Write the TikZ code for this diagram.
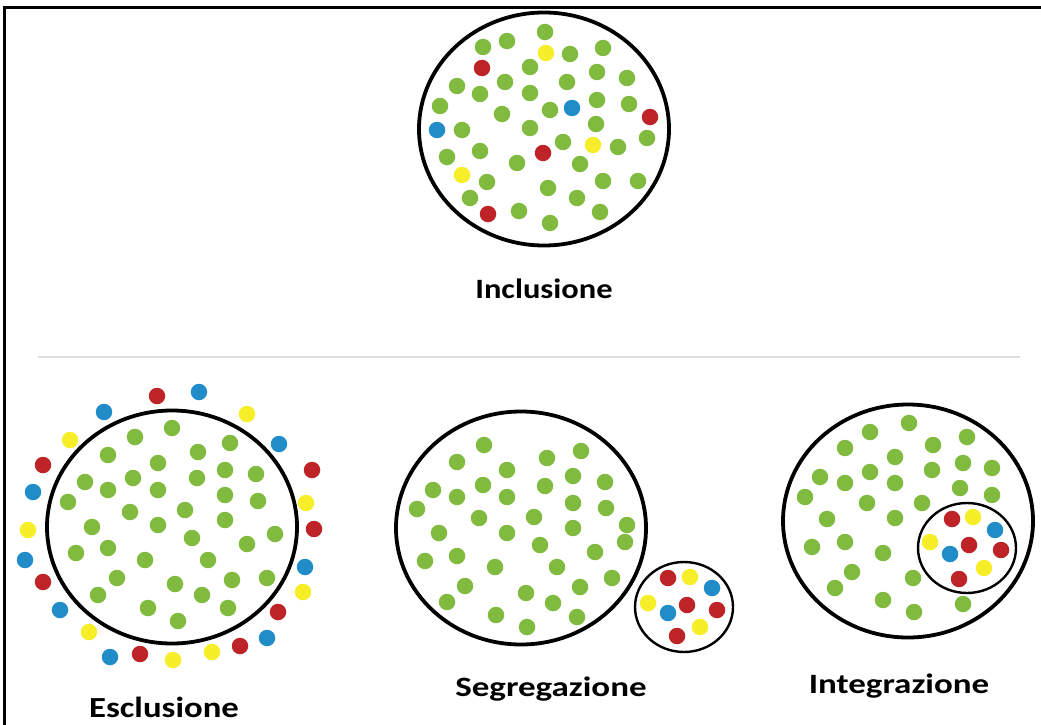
\documentclass[tikz,border=0pt]{standalone}
\usepackage{fontspec}
\setmainfont{Carlito}
\usetikzlibrary{shapes.geometric}
\definecolor{dgreen}{RGB}{128,186,62}
\definecolor{dred}{RGB}{190,35,40}
\definecolor{dblue}{RGB}{32,140,200}
\definecolor{dyellow}{RGB}{246,238,40}
\definecolor{sepgray}{RGB}{222,222,222}
\tikzset{
  dotbase/.style={circle,inner sep=0pt,minimum size=16.5pt},
  gd/.style={dotbase,fill=dgreen},
  rd/.style={dotbase,fill=dred},
  bd/.style={dotbase,fill=dblue},
  yd/.style={dotbase,fill=dyellow},
  bigring/.style={ellipse,draw=black,line width=3.8pt,inner sep=0pt,minimum width=250pt,minimum height=233pt},
  smallring/.style={ellipse,draw=black,line width=2.4pt,inner sep=0pt,minimum width=98pt,minimum height=90pt},
  lbl/.style={font=\bfseries\fontsize{28}{30}\selectfont,inner sep=0pt,text=black}
}
\begin{document}
\begin{tikzpicture}[x=1pt,y=-1pt]
\useasboundingbox (0,0) rectangle (1041,725);
\fill[white] (0,0) rectangle (1041,725);
% frame
\coordinate (ftl) at (4,8);
\coordinate (ftr) at (1041,8);
\coordinate (fbl) at (4,725);
\draw[line width=3pt] (ftr) -- (ftl) -- (fbl);
% separator
\coordinate (s1) at (38,357);
\coordinate (s2) at (1020,357);
\draw[sepgray,line width=2pt] (s1) -- (s2);

% ---------- Inclusione ----------
\foreach \x/\y in {545/32,507/41,483/47,570/54,603/48,530/67,597/72,627/78,457/86,505/82,567/82,480/94,530/93,440/106,597/100,629/104,550/110,502/114,462/130,530/128,596/124,563/142,618/147,647/138,447/157,480/151,517/163,580/164,487/182,548/188,603/181,638/181,470/198,577/198,519/211,550/223,600/212}
  \node[gd] at (\x,\y) {};
\foreach \x/\y in {482/68,650/117,543/153,488/214} \node[rd] at (\x,\y) {};
\foreach \x/\y in {572/108,437/130} \node[bd] at (\x,\y) {};
\foreach \x/\y in {546/53,593/145,462/175} \node[yd] at (\x,\y) {};
\node[bigring] (inc) at (544,129) {};
\node[lbl] (incl) at (544,289) {\scalebox{1.16}[1]{Inclusione}};

% ---------- Esclusione ----------
\foreach \x/\y in {172/428,135/437,198/452,230/443,108/455,158/463,225/470,256/474,85/482,133/478,197/478,108/490,158/490,225/495,258/501,68/502,130/512,185/510,158/525,225/520,92/527,275/534,192/538,247/544,76/553,108/548,145/560,208/560,117/578,175/584,232/580,267/578,98/595,202/595,148/608,228/608,178/621}
  \node[gd] at (\x,\y) {};
\foreach \x/\y in {157/396,43/465,312/470,314/529,43/582,278/612,140/654,240/646} \node[rd] at (\x,\y) {};
\foreach \x/\y in {199/392,104/412,279/444,33/492,25/560,305/567,60/610,267/638,110/657} \node[bd] at (\x,\y) {};
\foreach \x/\y in {247/414,70/440,306/503,28/530,303/592,89/632,173/660,212/652} \node[yd] at (\x,\y) {};
\node[bigring] (exc) at (172,527) {};
\node[lbl] (excl) at (164,707) {\scalebox{1.24}[1.04]{Esclusione}};

% ---------- Segregazione ----------
\foreach \x/\y in {484/445,457/462,547/458,581/451,507/470,573/476,433/490,483/485,545/486,605/482,457/497,507/497,417/509,479/518,534/517,573/503,606/508,573/528,627/525,439/533,507/533,625/542,540/545,595/552,425/561,457/556,495/567,557/567,612/578,465/586,526/593,580/587,447/602,553/603,496/615,577/617,527/627}
  \node[gd] at (\x,\y) {};
\node[bigring] (seg) at (521,528) {};
\foreach \x/\y in {668/578,687/605,717/610,677/636} \node[rd] at (\x,\y) {};
\foreach \x/\y in {712/588,668/613} \node[bd] at (\x,\y) {};
\foreach \x/\y in {690/577,648/603,700/627} \node[yd] at (\x,\y) {};
\node[smallring] (segs) at (684,607) {};
\node[lbl] (segl) at (551,689) {\scalebox{1.25}[1]{Segregazione}};

% ---------- Integrazione ----------
\foreach \x/\y in {909/423,870/432,933/445,967/437,845/448,895/457,932/470,963/463,992/468,820/477,870/472,845/483,895/483,960/488,992/495,805/497,867/503,922/503,827/519,895/518,812/547,845/542,883/553,852/572,835/588,913/578,883/600,914/612,963/604}
  \node[gd] at (\x,\y) {};
\node[bigring] (int) at (908,521) {};
\foreach \x/\y in {952/519,969/545,1001/550,959/579} \node[rd] at (\x,\y) {};
\foreach \x/\y in {995/530,950/554} \node[bd] at (\x,\y) {};
\foreach \x/\y in {973/517,930/542,984/568} \node[yd] at (\x,\y) {};
\node[smallring] (ints) at (967,548) {};
\node[lbl] (intl) at (899,686) {\scalebox{1.25}[1]{Integrazione}};
\end{tikzpicture}
\end{document}
